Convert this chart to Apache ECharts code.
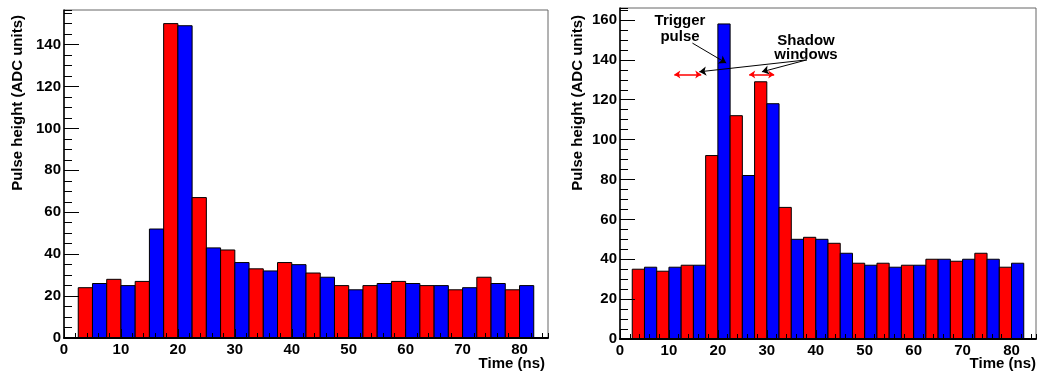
<!DOCTYPE html>
<html>
<head>
<meta charset="utf-8">
<script src="https://cdn.jsdelivr.net/npm/echarts@6/dist/echarts.min.js"></script>
<style>
  html, body { margin: 0; padding: 0; background: #fff; }
  #main { width: 1037px; height: 372px; }
</style>
</head>
<body>
<div id="main"></div>
<script>
// bin edges (ns), 2.5 ns wide
var binStarts = [2.5, 5, 7.5, 10, 12.5, 15, 17.5, 20, 22.5, 25, 27.5, 30, 32.5, 35, 37.5, 40,
                 42.5, 45, 47.5, 50, 52.5, 55, 57.5, 60, 62.5, 65, 67.5, 70, 72.5, 75, 77.5, 80];
var binWidth = 2.5;

// pulse heights (ADC units)
var leftHeights = [24, 26, 28, 25, 27, 52, 150, 149, 67, 43, 42, 36, 33, 32, 36, 35,
                   31, 29, 25, 23, 25, 26, 27, 26, 25, 25, 23, 24, 29, 26, 23, 25];
var rightHeights = [35, 36, 34, 36, 37, 37, 92, 158, 112, 82, 129, 118, 66, 50, 51, 50,
                    48, 43, 38, 37, 38, 36, 37, 37, 40, 40, 39, 40, 43, 40, 36, 38];

var binColors = ['#ff0000', '#0000ff'];
var FONT = '"Liberation Sans", Arial, Helvetica, sans-serif';

var myChart = echarts.init(document.getElementById('main'));

function binData(heights) {
  return binStarts.map(function (s, i) { return [s, s + binWidth, heights[i]]; });
}

function renderBin(params, api) {
  var p0 = api.coord([api.value(0), 0]);
  var p1 = api.coord([api.value(1), api.value(2)]);
  return {
    type: 'rect',
    shape: { x: p0[0], y: p1[1], width: p1[0] - p0[0], height: p0[1] - p1[1] },
    style: { fill: binColors[params.dataIndex % 2], stroke: '#000', lineWidth: 1 }
  };
}

var labelStyle = { color: '#000', fontFamily: FONT, fontWeight: 'bold', fontSize: 15 };

function mainX(grid) {
  return {
    gridIndex: grid, type: 'value', min: 0, max: 85, interval: 10, position: 'bottom', z: 10,
    axisLine: { lineStyle: { color: '#000', width: 2 } },
    axisTick: { inside: true, length: 9, lineStyle: { color: '#000' } },
    splitLine: { show: false },
    axisLabel: Object.assign({ margin: 4, showMaxLabel: false,
      formatter: function (v) { return v % 10 === 0 ? v : ''; } }, labelStyle)
  };
}
function minorX(grid) {
  return {
    gridIndex: grid, type: 'value', min: 0, max: 85, interval: 2, position: 'bottom', z: 10,
    axisLine: { show: false },
    axisTick: { inside: true, length: 5, lineStyle: { color: '#000' } },
    splitLine: { show: false },
    axisLabel: { show: false }
  };
}
function mainY(grid, max) {
  return {
    gridIndex: grid, type: 'value', min: 0, max: max, interval: 20, position: 'left', z: 10,
    axisLine: { show: true, lineStyle: { color: '#000', width: 1.5 } },
    axisTick: { show: true, inside: true, length: 15, lineStyle: { color: '#000' } },
    splitLine: { show: false },
    axisLabel: Object.assign({ margin: 3, showMaxLabel: false,
      formatter: function (v) { return v % 20 === 0 ? v : ''; } }, labelStyle)
  };
}
function minorY(grid, max) {
  return {
    gridIndex: grid, type: 'value', min: 0, max: max, interval: 5, position: 'left', z: 10,
    axisLine: { show: false },
    axisTick: { show: true, inside: true, length: 8, lineStyle: { color: '#000' } },
    splitLine: { show: false },
    axisLabel: { show: false }
  };
}

var arrowLine = { color: '#000', width: 1, type: 'solid' };
var redLine = { color: '#ff0000', width: 1.5, type: 'solid' };

var option = {
  animation: false,
  grid: [
    { left: 64, top: 10, width: 484, height: 328, show: true, borderColor: '#666', borderWidth: 1 },
    { left: 620, top: 8, width: 416, height: 331, show: true, borderColor: '#666', borderWidth: 1 }
  ],
  xAxis: [mainX(0), minorX(0), mainX(1), minorX(1)],
  yAxis: [mainY(0, 156.5), minorY(0, 156.5), mainY(1, 166), minorY(1, 166)],
  series: [
    {
      name: 'left', type: 'custom', xAxisIndex: 0, yAxisIndex: 0,
      renderItem: renderBin, encode: { x: [0, 1], y: 2 },
      data: binData(leftHeights)
    },
    {
      name: 'right', type: 'custom', xAxisIndex: 2, yAxisIndex: 2,
      renderItem: renderBin, encode: { x: [0, 1], y: 2 },
      data: binData(rightHeights),
      markLine: {
        silent: true, animation: false,
        label: { show: false },
        symbolSize: 7,
        lineStyle: arrowLine,
        data: [
          [{ coord: [14.8, 148.4], symbol: 'none' }, { coord: [21.7, 138.4], symbol: 'arrow' }],
          [{ coord: [38.2, 140], symbol: 'none' }, { coord: [16.2, 134], symbol: 'arrow' }],
          [{ coord: [38.2, 140], symbol: 'none' }, { coord: [29.0, 134], symbol: 'arrow' }],
          [{ coord: [11.1, 132.6], symbol: 'arrow', symbolSize: 6, lineStyle: redLine, itemStyle: { color: '#ff0000' } },
           { coord: [16.6, 132.6], symbol: 'arrow', symbolSize: 6 }],
          [{ coord: [26.4, 132.6], symbol: 'arrow', symbolSize: 6, lineStyle: redLine, itemStyle: { color: '#ff0000' } },
           { coord: [31.5, 132.6], symbol: 'arrow', symbolSize: 6 }]
        ]
      }
    }
  ],
  graphic: [
    { type: 'text', x: 18, y: 15, rotation: Math.PI / 2,
      style: { text: 'Pulse height (ADC units)', align: 'right', verticalAlign: 'middle',
               font: 'bold 15px ' + FONT, fill: '#000' } },
    { type: 'text', x: 578, y: 15, rotation: Math.PI / 2,
      style: { text: 'Pulse height (ADC units)', align: 'right', verticalAlign: 'middle',
               font: 'bold 15px ' + FONT, fill: '#000' } },
    { type: 'text', x: 545, y: 364,
      style: { text: 'Time (ns)', align: 'right', verticalAlign: 'middle',
               font: 'bold 15px ' + FONT, fill: '#000' } },
    { type: 'text', x: 1036, y: 364,
      style: { text: 'Time (ns)', align: 'right', verticalAlign: 'middle',
               font: 'bold 15px ' + FONT, fill: '#000' } },
    { type: 'text', x: 680, y: 29,
      style: { text: 'Trigger\npulse', align: 'center', verticalAlign: 'middle', lineHeight: 16,
               font: 'bold 15px ' + FONT, fill: '#000' } },
    { type: 'text', x: 806, y: 48,
      style: { text: 'Shadow\nwindows', align: 'center', verticalAlign: 'middle', lineHeight: 14,
               font: 'bold 15px ' + FONT, fill: '#000' } }
  ]
};

myChart.setOption(option);
</script>
</body>
</html>
